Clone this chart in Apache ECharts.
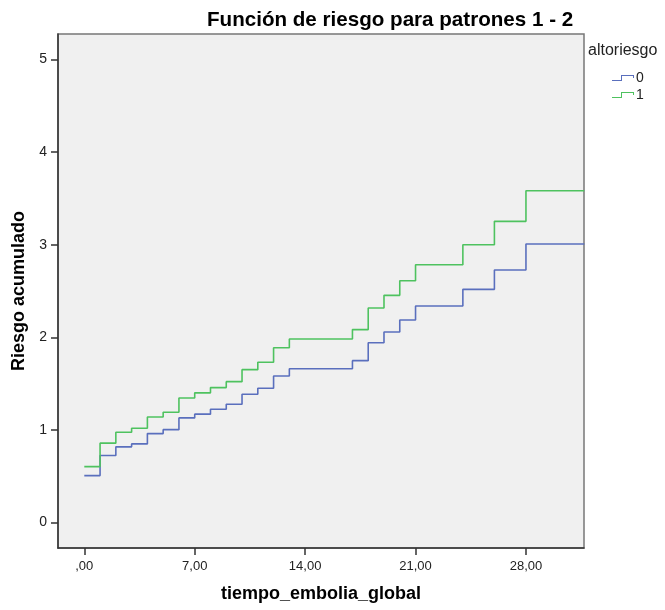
<!DOCTYPE html>
<html>
<head>
<meta charset="utf-8">
<script src="https://cdn.jsdelivr.net/npm/echarts@6/dist/echarts.min.js"></script>
<style>
html, body { margin: 0; padding: 0; background: #fff; }
#chart { width: 665px; height: 610px; }
</style>
</head>
<body>
<div id="chart"></div>
<script>
// tiempos de cambio (el último punto es solo para prolongar la curva hasta el borde)
var tiempos = [0, 1, 2, 3, 4, 5, 6, 7, 8, 9, 10, 11, 12, 13, 17, 18, 19, 20, 21, 24, 26, 28, 31.7];
// riesgo acumulado, altoriesgo = 0
var riesgo0 = [0.507, 0.723, 0.817, 0.849, 0.960, 1.003, 1.130, 1.170, 1.223, 1.277, 1.385, 1.450, 1.583, 1.660, 1.748, 1.942, 2.058, 2.187, 2.338, 2.518, 2.727, 3.007, 3.007];
// riesgo acumulado, altoriesgo = 1
var riesgo1 = [0.604, 0.857, 0.975, 1.018, 1.140, 1.191, 1.345, 1.400, 1.457, 1.521, 1.651, 1.731, 1.888, 1.982, 2.083, 2.317, 2.453, 2.611, 2.784, 3.000, 3.252, 3.582, 3.582];
var ticksX = [0, 7, 14, 21, 28];
var ticksY = [0, 1, 2, 3, 4, 5];

function pares(xs, ys) {
	var out = [];
	for (var i = 0; i < xs.length; i++) {
		out.push([xs[i], ys[i]]);
	}
	return out;
}

var fuente = '"Liberation Sans", Arial, sans-serif';
// icono de escalón para la leyenda (polígono fino, se rellena con el color de la serie)
var iconoEscalon = 'path://M0,5 L9,5 L9,0 L22,0 L22,3 L21,3 L21,1 L10,1 L10,6 L0,6 Z';

var myChart = echarts.init(document.getElementById('chart'));
var option = {
	backgroundColor: '#ffffff',
	animation: false,
	color: ['#3e58ac', '#2eb848'],
	title: [{
		text: 'Función de riesgo para patrones 1 - 2',
		left: 202,
		top: 5,
		textStyle: { fontFamily: fuente, fontSize: 20.6, fontWeight: 'bold', color: '#000' }
	}, {
		text: 'altoriesgo',
		left: 583,
		top: 38,
		textStyle: { fontFamily: fuente, fontSize: 16, fontWeight: 'normal', color: '#222' }
	}],
	legend: {
		orient: 'vertical',
		left: 612,
		top: 71,
		padding: 0,
		itemWidth: 22,
		itemHeight: 6,
		itemGap: 3,
		icon: iconoEscalon,
		itemStyle: { borderWidth: 0 },
		textStyle: { fontFamily: fuente, fontSize: 14, color: '#222', padding: [0, 0, 0, -3] },
		data: ['0', '1']
	},
	grid: {
		left: 58,
		right: 81,
		top: 34,
		bottom: 62,
		show: true,
		backgroundColor: '#f0f0f0',
		borderColor: '#777',
		borderWidth: 1.5
	},
	xAxis: {
		type: 'value',
		min: -1.667,
		max: 31.68,
		name: 'tiempo_embolia_global',
		nameLocation: 'middle',
		nameGap: 37,
		nameTextStyle: { fontFamily: fuente, fontSize: 18, fontWeight: 'bold', color: '#000' },
		axisLine: { show: true, onZero: false, lineStyle: { color: '#333', width: 1.5 } },
		axisTick: { show: true, length: 7, customValues: ticksX, lineStyle: { color: '#333', width: 1.5 } },
		axisLabel: {
			customValues: ticksX,
			margin: 12,
			fontFamily: fuente,
			fontSize: 13,
			color: '#222',
			formatter: function(v) {
				return v === 0 ? ',00' : v.toFixed(2).replace('.', ',');
			}
		},
		splitLine: { show: false }
	},
	yAxis: {
		type: 'value',
		min: -0.275,
		max: 5.275,
		name: 'Riesgo acumulado',
		nameLocation: 'middle',
		nameGap: 27,
		nameTextStyle: { fontFamily: fuente, fontSize: 18, fontWeight: 'bold', color: '#000' },
		axisLine: { show: true, onZero: false, lineStyle: { color: '#333', width: 1.5 } },
		axisTick: { show: true, length: 7, customValues: ticksY, lineStyle: { color: '#333', width: 1.5 } },
		axisLabel: {
			customValues: ticksY,
			margin: 11,
			fontFamily: fuente,
			fontSize: 14,
			color: '#222'
		},
		splitLine: { show: false }
	},
	series: [{
		name: '0',
		type: 'line',
		step: 'end',
		showSymbol: false,
		symbol: 'none',
		clip: true,
		lineStyle: { width: 1.6, color: '#5a6fbd' },
		itemStyle: { color: '#5a6fbd' },
		data: pares(tiempos, riesgo0)
	}, {
		name: '1',
		type: 'line',
		step: 'end',
		showSymbol: false,
		symbol: 'none',
		clip: true,
		lineStyle: { width: 1.6, color: '#4ec25f' },
		itemStyle: { color: '#4ec25f' },
		data: pares(tiempos, riesgo1)
	}]
};
myChart.setOption(option);
</script>
</body>
</html>
